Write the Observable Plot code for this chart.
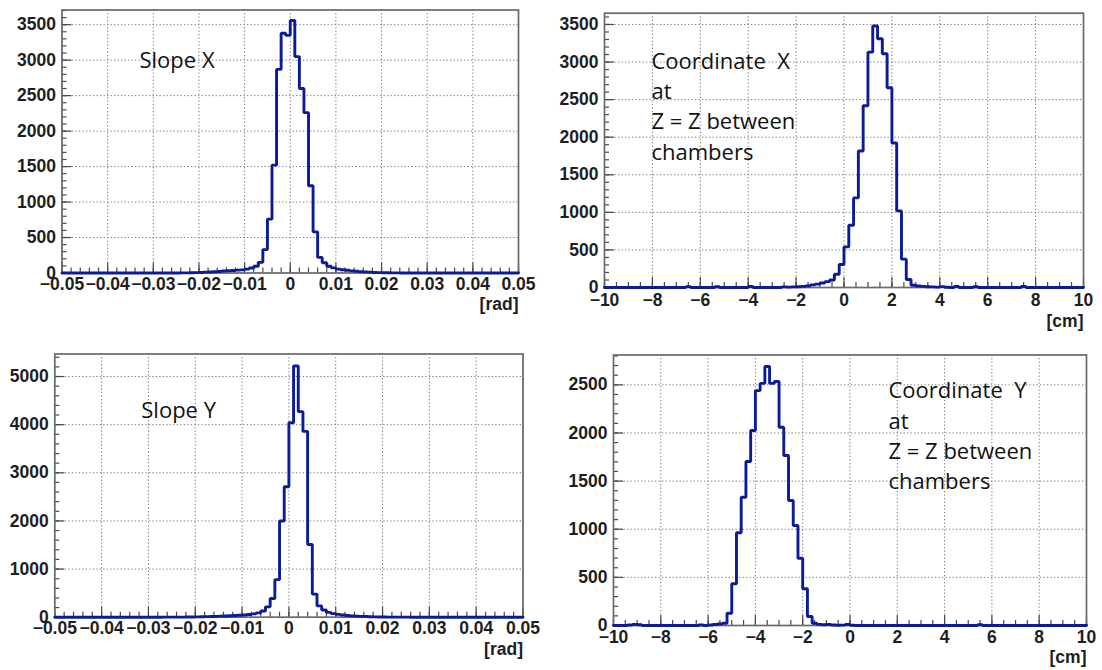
<!DOCTYPE html>
<html><head><meta charset="utf-8">
<script src="https://cdn.jsdelivr.net/npm/d3@7"></script>
<script src="https://cdn.jsdelivr.net/npm/@observablehq/plot@0.6"></script>
<style>
body{margin:0;background:#fff;}
#root{position:relative;width:1102px;height:670px;overflow:hidden;background:#fff;}
.panel{position:absolute;}
</style></head><body><div id="root"></div>
<script>
// ---- data: bin counts (100 bins each) ----
const slopeXCounts = [
  0,0,0,0,0,0,0,0,0,0,
  0,0,0,0,0,0,0,0,0,0,
  0,0,1,0,1,1,2,2,3,5,
  8,12,15,18,22,28,32,36,40,44,
  55,70,95,150,330,760,1520,2870,3380,3350,
  3560,3050,2600,2260,1230,580,220,145,95,72,
  55,45,38,30,25,20,16,12,8,5,
  4,3,2,2,1,1,1,0,0,0,
  0,0,0,0,0,0,0,0,0,0,
  0,0,0,0,0,0,0,0,0,0];
const slopeYCounts = [
  0,0,0,0,0,0,0,0,0,0,
  0,0,0,0,0,0,0,0,0,0,
  0,0,0,1,1,1,2,2,3,4,
  6,8,12,15,18,22,25,30,35,40,
  45,55,70,90,130,215,390,780,2000,2710,
  4040,5220,4270,3860,1510,480,235,150,100,75,
  58,45,35,28,22,18,14,10,6,4,
  3,2,2,1,1,1,0,0,0,0,
  0,0,0,0,0,0,0,0,0,0,
  0,0,0,0,0,0,0,0,0,0];
const coordXCounts = [
  0,0,0,0,0,0,0,0,0,0,
  0,0,0,0,0,0,0,12,0,0,
  0,0,0,10,0,0,0,0,0,0,
  14,0,0,0,0,0,0,8,5,8,
  10,15,22,35,45,60,78,100,177,306,
  540,829,1192,1817,2419,3132,3480,3310,3110,2658,
  1923,1019,377,106,30,20,15,10,8,5,
  12,3,0,14,0,0,0,10,0,0,
  0,0,0,0,0,0,0,14,0,0,
  0,0,0,0,0,0,0,0,0,0];
const coordYCounts = [
  0,0,0,5,10,8,0,0,0,0,
  0,0,0,0,0,0,0,0,5,0,
  5,10,15,24,128,433,963,1333,1704,2026,
  2440,2515,2690,2515,2535,2060,1766,1298,1039,699,
  381,93,24,12,8,10,5,3,4,10,
  3,0,0,0,0,0,0,0,0,0,
  0,0,0,0,0,0,0,0,0,0,
  0,0,0,0,0,0,0,8,0,0,
  0,0,0,0,0,0,0,0,0,0,
  0,0,0,0,0,0,0,0,0,0];

// ---- axis ticks & labels ----
const slopeTicks = [-0.05,-0.04,-0.03,-0.02,-0.01,0,0.01,0.02,0.03,0.04,0.05];
const slopeTickLabels = ["\u22120.05","\u22120.04","\u22120.03","\u22120.02","\u22120.01","0","0.01","0.02","0.03","0.04","0.05"];
const coordTicks = [-10,-8,-6,-4,-2,0,2,4,6,8,10];
const coordTickLabels = ["\u221210","\u22128","\u22126","\u22124","\u22122","0","2","4","6","8","10"];
const yTicks3500 = [0,500,1000,1500,2000,2500,3000,3500];
const yTicks5000 = [0,1000,2000,3000,4000,5000];
const yTicks2500 = [0,500,1000,1500,2000,2500];

// ---- texts ----
const unitRad = "[rad]";
const unitCm = "[cm]";
const noteSlopeX = "Slope X";
const noteSlopeY = "Slope Y";
const noteCoordX = "Coordinate\u00a0 X\nat\nZ = Z between\nchambers";
const noteCoordY = "Coordinate\u00a0 Y\nat\nZ = Z between\nchambers";

const root = document.getElementById("root");
const labelFont = "'Liberation Sans', Arial, Helvetica, sans-serif";
const labelSize = 17.5;
const labelColor = "#1e1e1e";

function panel(cfg) {
  const {counts, lo, hi, ymax, xTicks, xLabels, xMinorStep, yTicks, yMinorStep,
         unit, unitDy, note, noteDx, noteDy, noteAnchor, box, m, xPad} = cfg;
  const w = (hi - lo) / counts.length;
  const pts = counts.map((c, i) => ({x: lo + i * w, y: c}));
  pts.push({x: hi, y: counts[counts.length - 1]});
  const innerH = box.h - m.top - m.bottom;
  const innerW = box.w - m.left - m.right;
  const nx = Math.round((hi - lo) / xMinorStep);
  const xMinor = d3.range(nx + 1).map(i => lo + i * xMinorStep);
  const yMinor = d3.range(Math.floor(ymax / yMinorStep) + 1).map(i => i * yMinorStep);
  const labelOf = v => xLabels[xTicks.findIndex(t => Math.abs(t - v) < 1e-9)];
  const tickStroke = "#4a4a4a";
  const gridOpts = {stroke: "#7a7a7a", strokeOpacity: 1, strokeWidth: 1, strokeDasharray: "1.3,2.2"};
  const txt = {fontFamily: labelFont, fontSize: labelSize, fontWeight: "bold", fill: labelColor};
  const svg = Plot.plot({
    width: box.w, height: box.h,
    marginLeft: m.left, marginRight: m.right, marginTop: m.top, marginBottom: m.bottom,
    x: {domain: [lo, hi], label: null},
    y: {domain: [0, ymax], label: null},
    style: {fontFamily: labelFont, fontSize: labelSize + "px", fontWeight: "bold",
            color: labelColor, background: "transparent", overflow: "visible"},
    marks: [
      Plot.gridX(xTicks, gridOpts),
      Plot.gridY(yTicks, gridOpts),
      Plot.ruleX(xMinor, {stroke: tickStroke, strokeWidth: 1.2, insetTop: innerH - 5}),
      Plot.ruleX(xTicks, {stroke: tickStroke, strokeWidth: 1.2, insetTop: innerH - 10}),
      Plot.ruleY(yMinor, {stroke: tickStroke, strokeWidth: 1.2, insetRight: innerW - 5}),
      Plot.ruleY(yTicks, {stroke: tickStroke, strokeWidth: 1.2, insetRight: innerW - 10}),
      Plot.frame({stroke: "#6a6a6a", strokeWidth: 1.7}),
      Plot.line(pts, {x: "x", y: "y", curve: "step-after", stroke: "#0c1c98", strokeWidth: 2.9, strokeLinejoin: "miter"}),
      Plot.axisX(xTicks, {tickSize: 0, tickPadding: xPad, tickFormat: labelOf, ...txt}),
      Plot.axisY(yTicks, {tickSize: 0, tickPadding: 6, tickFormat: d => String(d), ...txt}),
      Plot.text([unit], {frameAnchor: "bottom-right", textAnchor: "end", lineAnchor: "top", dy: unitDy, ...txt}),
      Plot.text([note], {frameAnchor: "top-left", textAnchor: "start", lineAnchor: noteAnchor,
        dx: noteDx, dy: noteDy, fontFamily: "'Open Sans', 'Noto Sans', sans-serif", fontWeight: "normal",
        fontSize: 22, lineHeight: 1.37, fill: "#111"})
    ]
  });
  const wrap = document.createElement("div");
  wrap.className = "panel";
  wrap.style.left = box.x + "px";
  wrap.style.top = box.y + "px";
  wrap.appendChild(svg);
  root.appendChild(wrap);
}

panel({counts: slopeXCounts, lo: -0.05, hi: 0.05, ymax: 3707,
  xTicks: slopeTicks, xLabels: slopeTickLabels, xMinorStep: 0.002, yTicks: yTicks3500, yMinorStep: 100,
  unit: unitRad, unitDy: 25, note: noteSlopeX, noteDx: 77.5, noteDy: 57.5, noteAnchor: "bottom",
  box: {x: 0, y: 0, w: 551, h: 330}, m: {left: 61.5, right: 33, top: 9.5, bottom: 57.5}, xPad: 4.5});

panel({counts: coordXCounts, lo: -10, hi: 10, ymax: 3650,
  xTicks: coordTicks, xLabels: coordTickLabels, xMinorStep: 0.5, yTicks: yTicks3500, yMinorStep: 100,
  unit: unitCm, unitDy: 27, note: noteCoordX, noteDx: 47, noteDy: 34.5, noteAnchor: "top",
  box: {x: 551, y: 0, w: 551, h: 335}, m: {left: 53, right: 19, top: 12.7, bottom: 48}, xPad: 6});

panel({counts: slopeYCounts, lo: -0.05, hi: 0.05, ymax: 5468,
  xTicks: slopeTicks, xLabels: slopeTickLabels, xMinorStep: 0.002, yTicks: yTicks5000, yMinorStep: 200,
  unit: unitRad, unitDy: 25, note: noteSlopeY, noteDx: 86.5, noteDy: 63.5, noteAnchor: "bottom",
  box: {x: 0, y: 335, w: 551, h: 335}, m: {left: 54.3, right: 28.5, top: 18.5, bottom: 53.3}, xPad: 4.5});

panel({counts: coordYCounts, lo: -10, hi: 10, ymax: 2810,
  xTicks: coordTicks, xLabels: coordTickLabels, xMinorStep: 0.5, yTicks: yTicks2500, yMinorStep: 100,
  unit: unitCm, unitDy: 25, note: noteCoordY, noteDx: 275, noteDy: 22, noteAnchor: "top",
  box: {x: 551, y: 335, w: 551, h: 335}, m: {left: 62, right: 16, top: 19.5, bottom: 45}, xPad: 5});
</script>
</body></html>
